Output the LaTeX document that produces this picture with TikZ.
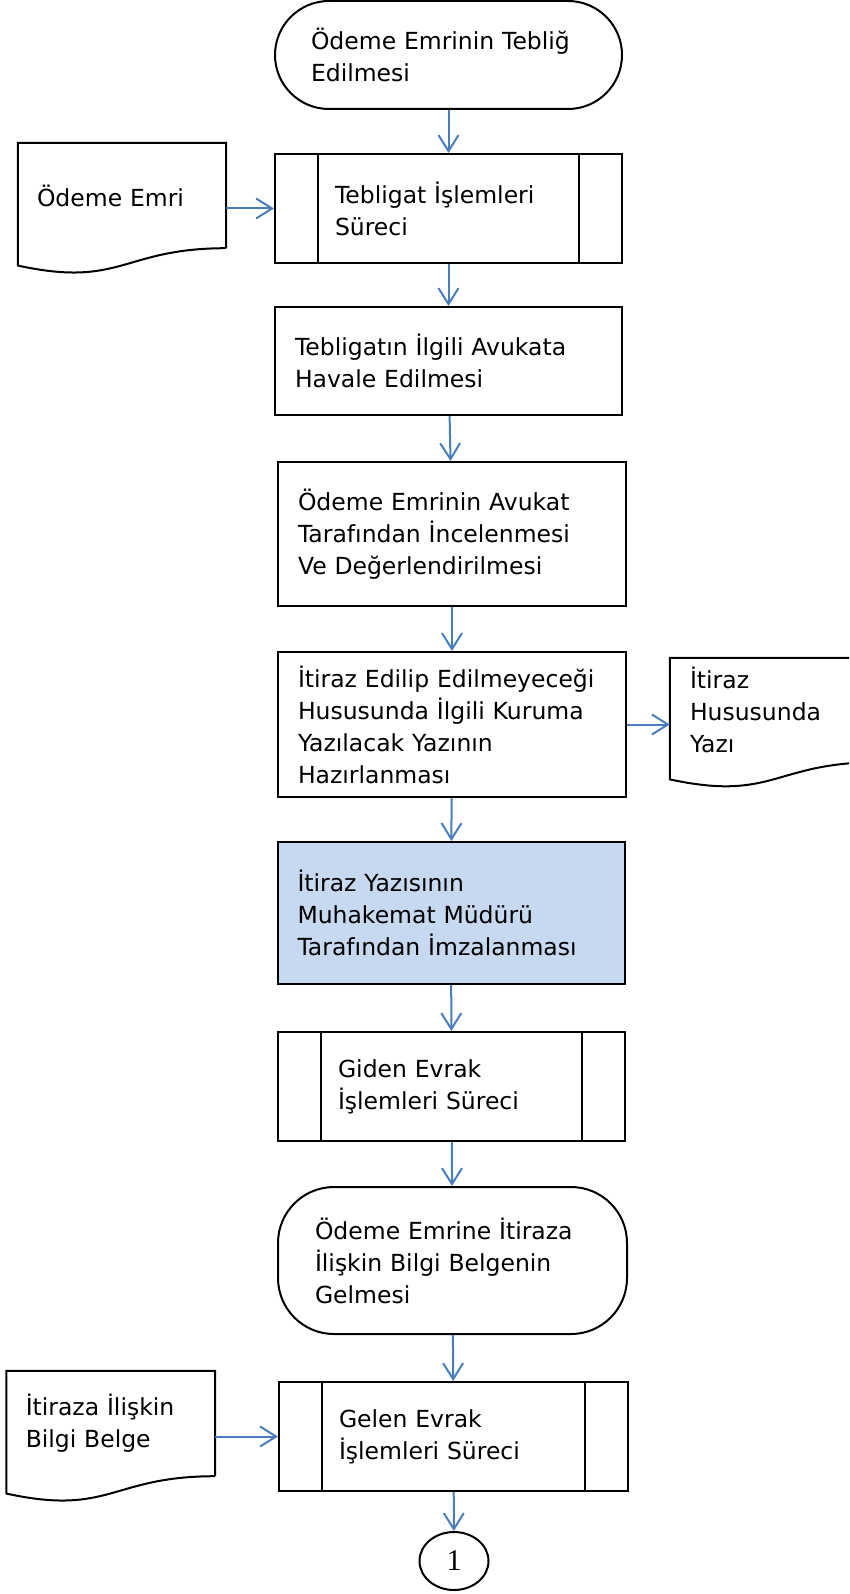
\documentclass[tikz,border=0pt]{standalone}
\usepackage{fontspec}
\setmainfont{DejaVu Sans}
\newfontfamily\rakamfont{Liberation Serif}
\usetikzlibrary{arrows.meta,shapes.geometric,calc}
\definecolor{okmavi}{HTML}{4A7EBB}
\definecolor{kutumavi}{HTML}{C6D9F1}
\tikzset{
  kutu/.style={draw=black, line width=2pt, rectangle, align=left, inner sep=0pt,
    font=\fontsize{23.5}{32}\selectfont},
  uc/.style={kutu, rounded corners=#1},
  altsurec/.style={kutu, path picture={
    \draw[line width=1.4pt] ([xshift=43pt]path picture bounding box.north west) -- ([xshift=43pt]path picture bounding box.south west);
    \draw[line width=1.4pt] ([xshift=-43pt]path picture bounding box.north east) -- ([xshift=-43pt]path picture bounding box.south east);}},
  belge/.style={rectangle, align=left, inner sep=0pt, font=\fontsize{23.5}{32}\selectfont},
  ok/.style={draw=okmavi, line width=2pt, -{Straight Barb[length=16pt,width=20pt]}}
}
% belge cizgisi: alti dalgali
\newcommand{\belgeciz}[1]{%
  \draw[line width=2pt] (#1.south east) -- (#1.north east) -- (#1.north west)
    -- ($(#1.north west)!1.1646!(#1.south west)$)
    .. controls ($(#1.north)!1.38!(#1.south)$) and (#1.south) .. (#1.south east);}
\begin{document}
\begin{tikzpicture}[x=1pt, y=-1pt]
\useasboundingbox (0,0) rectangle (849,1594);
\clip (0,0) rectangle (849,1594);

\node (T1) at (448.5,55) [uc=54, minimum width=347pt, minimum height=108pt, text width=275pt] {Ödeme Emrinin Tebliğ\\ Edilmesi};
\node (P1) at (448.5,208.5) [altsurec, minimum width=347pt, minimum height=109pt, text width=227pt] {Tebligat İşlemleri\\ Süreci};
\node (D1) at (122,195.5) [belge, minimum width=208pt, minimum height=105pt, text width=170pt] {Ödeme Emri};
\node (B2) at (448.5,361) [kutu, minimum width=347pt, minimum height=108pt, text width=307pt] {Tebligatın İlgili Avukata\\ Havale Edilmesi};
\node (B3) at (452,534) [kutu, minimum width=348pt, minimum height=144pt, text width=308pt] {Ödeme Emrinin Avukat\\ Tarafından İncelenmesi\\ Ve Değerlendirilmesi};
\node (B4) at (452,724.5) [kutu, minimum width=348pt, minimum height=145pt, text width=308pt] {İtiraz Edilip Edilmeyeceği\\ Hususunda İlgili Kuruma\\ Yazılacak Yazının\\ Hazırlanması};
\node (D2) at (774,710) [belge, minimum width=208pt, minimum height=104pt, text width=168pt] {İtiraz\\ Hususunda\\ Yazı};
\node (B5) at (451,913) [kutu, fill=kutumavi, minimum width=347pt, minimum height=142pt, text width=307pt] {İtiraz Yazısının\\ Muhakemat Müdürü\\ Tarafından İmzalanması};
\node (P2) at (451.5,1086.5) [altsurec, minimum width=347pt, minimum height=109pt, text width=227pt] {Giden Evrak\\ İşlemleri Süreci};
\node (T2) at (452.5,1260.5) [uc=56, minimum width=349pt, minimum height=147pt, text width=275pt] {Ödeme Emrine İtiraza\\ İlişkin Bilgi Belgenin\\ Gelmesi};
\node (P3) at (453.5,1436.5) [altsurec, minimum width=349pt, minimum height=109pt, text width=229pt] {Gelen Evrak\\ İşlemleri Süreci};
\node (D3) at (110.75,1423.5) [belge, minimum width=208.5pt, minimum height=105pt, text width=170pt] {İtiraza İlişkin\\ Bilgi Belge};
\node (C) at (454,1561) [ellipse, draw, line width=2pt, minimum width=69pt, minimum height=58pt, inner sep=0pt, font=\rakamfont\fontsize{30}{30}\selectfont] {1};

\belgeciz{D1}
\belgeciz{D2}
\belgeciz{D3}

\draw[ok] (T1) to (P1);
\draw[ok] (D1.east |- P1.west) to (P1.west);
\draw[ok] (P1) to (B2);
\draw[ok] (B2) to (B3);
\draw[ok] (B3) to (B4);
\draw[ok] (B4.east) to (B4.east -| D2.west);
\draw[ok] (B4) to (B5);
\draw[ok] (B5) to (P2);
\draw[ok] (P2) to (T2);
\draw[ok] (T2) to (P3);
\draw[ok] (D3.east |- P3.west) to (P3.west);
\draw[ok] (P3) to (C);
\end{tikzpicture}
\end{document}
